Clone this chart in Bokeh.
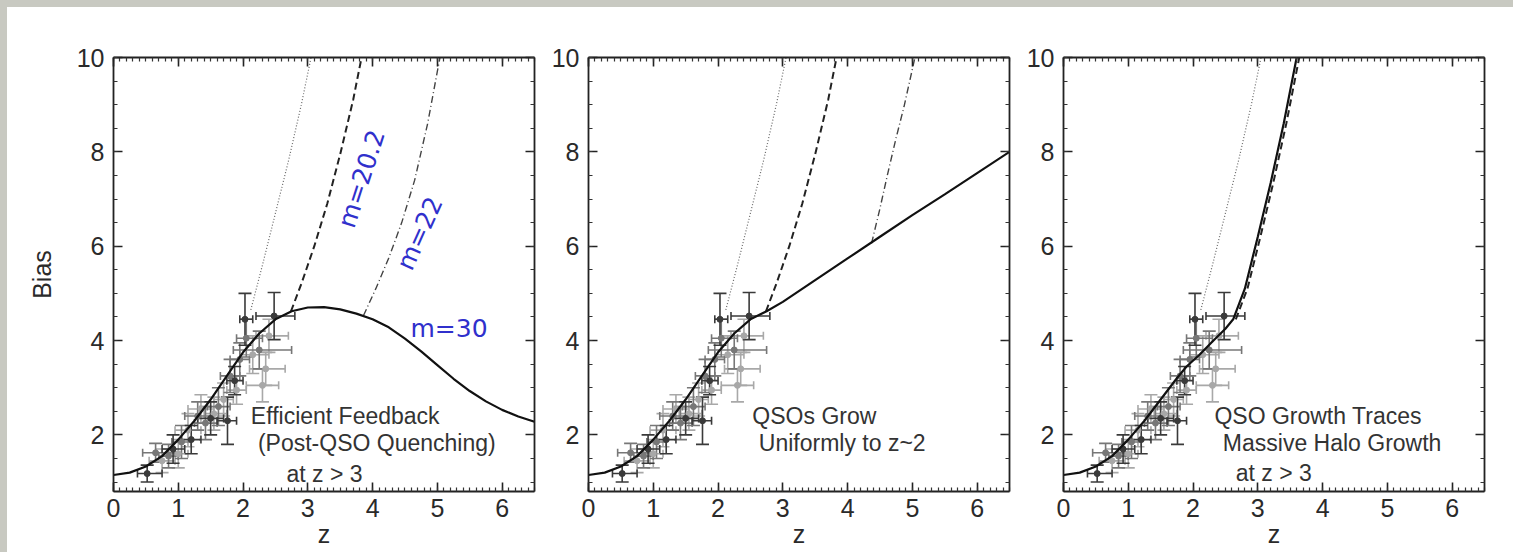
import numpy as np
from bokeh.plotting import figure
from bokeh.models import (LinearAxis, Range1d, Label, Whisker, ColumnDataSource,
                          TeeHead, SingleIntervalTicker, CustomJSTickFormatter)
from bokeh.layouts import row
from bokeh.embed import file_html
from bokeh.resources import INLINE

# ---------------- data ----------------
# model curves (z, bias)
z_base = [0.0, 0.25, 0.5, 0.75, 1.0, 1.25, 1.5, 1.75, 2.0, 2.25, 2.5, 2.75]
b_base = [1.15, 1.2, 1.33, 1.55, 1.9, 2.3, 2.75, 3.25, 3.75, 4.15, 4.45, 4.62]

z_feedback_tail = [3.0, 3.25, 3.5, 3.75, 4.0, 4.25, 4.5, 4.75, 5.0, 5.25, 5.5, 5.75, 6.0, 6.25, 6.5]
b_feedback_tail = [4.70, 4.71, 4.66, 4.57, 4.45, 4.28, 4.04, 3.77, 3.48, 3.19, 2.93, 2.71, 2.53, 2.39, 2.28]

z_uniform_tail = [3.0, 3.5, 4.0, 4.5, 5.0, 5.5, 6.0, 6.5]
b_uniform_tail = [4.82, 5.28, 5.74, 6.20, 6.66, 7.10, 7.55, 8.00]

z_halo = [0.0, 0.25, 0.5, 0.75, 1.0, 1.25, 1.5, 1.75, 1.9, 2.1, 2.3, 2.5, 2.62, 2.8, 3.0, 3.2, 3.4, 3.6]
b_halo = [1.15, 1.2, 1.33, 1.55, 1.9, 2.3, 2.75, 3.2, 3.45, 3.7, 3.98, 4.25, 4.45, 5.1, 6.2, 7.35, 8.6, 10.0]

# constant-mass tracks
z_m_dot = [2.12, 2.3, 2.5, 2.7, 2.9, 3.05]
b_m_dot = [4.65, 5.6, 6.7, 7.8, 9.0, 10.0]

z_m202 = [2.74, 2.9, 3.1, 3.3, 3.5, 3.7, 3.83]
b_m202 = [4.62, 5.2, 6.0, 6.9, 7.95, 9.1, 10.0]

z_m22_fb = [3.86, 4.05, 4.25, 4.45, 4.65, 4.85, 5.04]
b_m22_fb = [4.53, 5.1, 5.75, 6.5, 7.4, 8.6, 10.0]

z_m22_un = [4.37, 4.5, 4.62, 4.75, 4.87, 5.04]
b_m22_un = [6.06, 6.8, 7.54, 8.3, 8.95, 10.0]

z_m202_halo = [2.66, 2.84, 3.04, 3.24, 3.44, 3.64]
b_m202_halo = [4.45, 5.1, 6.2, 7.35, 8.6, 10.0]

# observed clustering measurements: z, bias, z_low, z_high, bias_err
obs_dark_z = [0.52, 0.92, 1.20, 1.50, 1.76, 1.87, 2.03, 2.48]
obs_dark_b = [1.18, 1.70, 1.90, 2.35, 2.30, 3.15, 4.45, 4.52]
obs_dark_zlo = [0.37, 0.75, 1.05, 1.30, 1.60, 1.75, 1.95, 2.20]
obs_dark_zhi = [0.75, 1.10, 1.35, 1.70, 1.90, 2.00, 2.15, 2.80]
obs_dark_err = [0.18, 0.30, 0.30, 0.35, 0.50, 0.30, 0.55, 0.50]

obs_mid_z = [0.65, 0.85, 1.05, 1.30, 1.42, 1.62, 1.80, 2.25, 1.95, 2.05]
obs_mid_b = [1.62, 1.55, 1.85, 2.40, 2.25, 2.60, 3.25, 3.80, 3.60, 4.05]
obs_mid_zlo = [0.45, 0.70, 0.90, 1.10, 1.25, 1.45, 1.65, 1.85, 1.80, 1.90]
obs_mid_zhi = [0.95, 1.00, 1.20, 1.50, 1.60, 1.80, 1.95, 2.75, 2.10, 2.30]
obs_mid_err = [0.20, 0.25, 0.35, 0.30, 0.35, 0.40, 0.35, 0.40, 0.35, 0.40]

obs_light_z = [0.75, 1.00, 1.15, 1.35, 1.55, 1.70, 1.90, 2.30, 2.35, 2.15, 2.40]
obs_light_b = [1.45, 1.60, 2.10, 2.55, 2.45, 2.75, 2.95, 3.05, 3.40, 3.70, 4.10]
obs_light_zlo = [0.55, 0.85, 0.95, 1.15, 1.40, 1.55, 1.75, 2.05, 2.10, 1.95, 2.20]
obs_light_zhi = [0.95, 1.15, 1.35, 1.55, 1.75, 1.85, 2.05, 2.55, 2.65, 2.40, 2.70]
obs_light_err = [0.25, 0.30, 0.35, 0.30, 0.35, 0.35, 0.30, 0.35, 0.35, 0.40, 0.35]

x_ticks_interval = 1
y_ticks_interval = 2

panel_notes = [
    ["Efficient Feedback", "(Post-QSO Quenching)", "at z > 3"],
    ["QSOs Grow", "Uniformly to z~2"],
    ["QSO Growth Traces", "Massive Halo Growth", "at z > 3"],
]

# ---------------- styling ----------------
FONT = "Liberation Sans"
TXT = "#2a2a2a"
BLUE = "#3030cc"


def style_axis(ax, labels=True):
    ax.axis_line_color = "#222222"
    ax.axis_line_width = 1.8
    ax.major_tick_line_color = "#222222"
    ax.minor_tick_line_color = "#333333"
    ax.major_tick_line_width = 1.6
    ax.minor_tick_line_width = 1.2
    ax.major_tick_in = 9
    ax.major_tick_out = 0
    ax.minor_tick_in = 4
    ax.minor_tick_out = 0
    ax.major_label_text_font = FONT
    ax.major_label_text_color = TXT
    ax.axis_label_text_font = FONT
    ax.axis_label_text_font_style = "normal"
    ax.axis_label_text_color = TXT
    if labels:
        ax.major_label_text_font_size = "25px"
        ax.axis_label_text_font_size = "25px"
    else:
        ax.formatter = CustomJSTickFormatter(code="return ''")
        ax.major_label_text_font_size = "10px"
        ax.major_label_standoff = 0


def make_panel(width, left, right, ylabel=None):
    p = figure(width=width, height=545, x_range=Range1d(0, 6.5), y_range=Range1d(0.8, 10),
               output_backend="svg", toolbar_location=None,
               min_border_left=left, min_border_right=right,
               min_border_top=50, min_border_bottom=61,
               background_fill_color="white", border_fill_color="white")
    p.outline_line_color = None
    p.xgrid.visible = False
    p.ygrid.visible = False
    p.xaxis.ticker = SingleIntervalTicker(interval=x_ticks_interval, num_minor_ticks=10)
    p.yaxis.ticker = SingleIntervalTicker(interval=y_ticks_interval, num_minor_ticks=4)
    style_axis(p.xaxis[0])
    style_axis(p.yaxis[0])
    p.xaxis.axis_label = "z"
    p.xaxis.major_label_standoff = 7
    p.xaxis.axis_label_standoff = 0
    p.yaxis.major_label_standoff = 9
    if ylabel:
        p.yaxis.axis_label = ylabel
        p.yaxis.axis_label_standoff = 18
    top = LinearAxis(ticker=SingleIntervalTicker(interval=x_ticks_interval, num_minor_ticks=10))
    rgt = LinearAxis(ticker=SingleIntervalTicker(interval=y_ticks_interval, num_minor_ticks=4))
    style_axis(top, labels=False)
    style_axis(rgt, labels=False)
    p.add_layout(top, "above")
    p.add_layout(rgt, "right")
    return p


def add_obs(p):
    groups = [
        (obs_light_z, obs_light_b, obs_light_zlo, obs_light_zhi, obs_light_err, "#a8a8a8"),
        (obs_mid_z, obs_mid_b, obs_mid_zlo, obs_mid_zhi, obs_mid_err, "#777777"),
        (obs_dark_z, obs_dark_b, obs_dark_zlo, obs_dark_zhi, obs_dark_err, "#3a3a3a"),
    ]
    for zz, bb, zl, zh, be, col in groups:
        src = ColumnDataSource(dict(
            z=zz, b=bb, zlo=zl, zhi=zh,
            blo=[b - e for b, e in zip(bb, be)],
            bhi=[b + e for b, e in zip(bb, be)]))
        p.add_layout(Whisker(base="z", lower="blo", upper="bhi", source=src, dimension="height",
                             line_color=col, line_width=1.6,
                             lower_head=TeeHead(size=13, line_color=col, line_width=1.6),
                             upper_head=TeeHead(size=13, line_color=col, line_width=1.6)))
        p.add_layout(Whisker(base="b", lower="zlo", upper="zhi", source=src, dimension="width",
                             line_color=col, line_width=1.6,
                             lower_head=TeeHead(size=8, line_color=col, line_width=1.6),
                             upper_head=TeeHead(size=8, line_color=col, line_width=1.6)))
        p.scatter("z", "b", source=src, size=6, color=col)


def add_notes(p, lines, xs, ys):
    for t, x, y in zip(lines, xs, ys):
        p.add_layout(Label(x=x, y=y, text=t, text_font=FONT, text_font_size="23px",
                           text_color="#333333", text_align="left", text_baseline="alphabetic"))


def track(p, zz, bb, kind):
    if kind == "dot":
        p.line(zz, bb, line_color="#666666", line_width=1.2, line_dash="1 2")
    elif kind == "dash":
        p.line(zz, bb, line_color="#222222", line_width=2, line_dash="7 4")
    else:
        p.line(zz, bb, line_color="#444444", line_width=1.4, line_dash="7 3 1 3")


# ---------------- panel 1 ----------------
p1 = make_panel(532, 106, 5, ylabel="Bias")
add_obs(p1)
track(p1, z_m_dot, b_m_dot, "dot")
track(p1, z_m202, b_m202, "dash")
track(p1, z_m22_fb, b_m22_fb, "dashdot")
p1.line(z_base + z_feedback_tail, b_base + b_feedback_tail, line_color="#111111", line_width=2.2)
add_notes(p1, panel_notes[0], [2.12, 2.23, 2.67], [2.41, 1.82, 1.18])
p1.add_layout(Label(x=3.83, y=7.43, text="m=20.2", angle=1.257, text_font="DejaVu Sans",
                    text_font_size="25px", text_color=BLUE, text_align="center", text_baseline="middle"))
p1.add_layout(Label(x=4.73, y=6.27, text="m=22", angle=1.15, text_font="DejaVu Sans",
                    text_font_size="25px", text_color=BLUE, text_align="center", text_baseline="middle"))
p1.add_layout(Label(x=5.18, y=4.25, text="m=30", text_font="DejaVu Sans",
                    text_font_size="25px", text_color=BLUE, text_align="center", text_baseline="middle"))

# ---------------- panel 2 ----------------
p2 = make_panel(475, 49, 5)
add_obs(p2)
track(p2, z_m_dot, b_m_dot, "dot")
track(p2, z_m202, b_m202, "dash")
track(p2, z_m22_un, b_m22_un, "dashdot")
p2.line(z_base + z_uniform_tail, b_base + b_uniform_tail, line_color="#111111", line_width=2.2)
add_notes(p2, panel_notes[1], [2.53, 2.63], [2.41, 1.82])

# ---------------- panel 3 ----------------
p3 = make_panel(499, 49, 29)
add_obs(p3)
track(p3, z_m_dot, b_m_dot, "dot")
track(p3, z_m202_halo, b_m202_halo, "dash")
p3.line(z_halo, b_halo, line_color="#111111", line_width=2.2)
add_notes(p3, panel_notes[2], [2.33, 2.46, 2.66], [2.41, 1.82, 1.2])

layout = row(p1, p2, p3, styles={"background-color": "white",
                                 "border-top": "7px solid #c8c9c1",
                                 "border-left": "7px solid #c8c9c1"})

open("out.html", "w").write(file_html(layout, INLINE))
